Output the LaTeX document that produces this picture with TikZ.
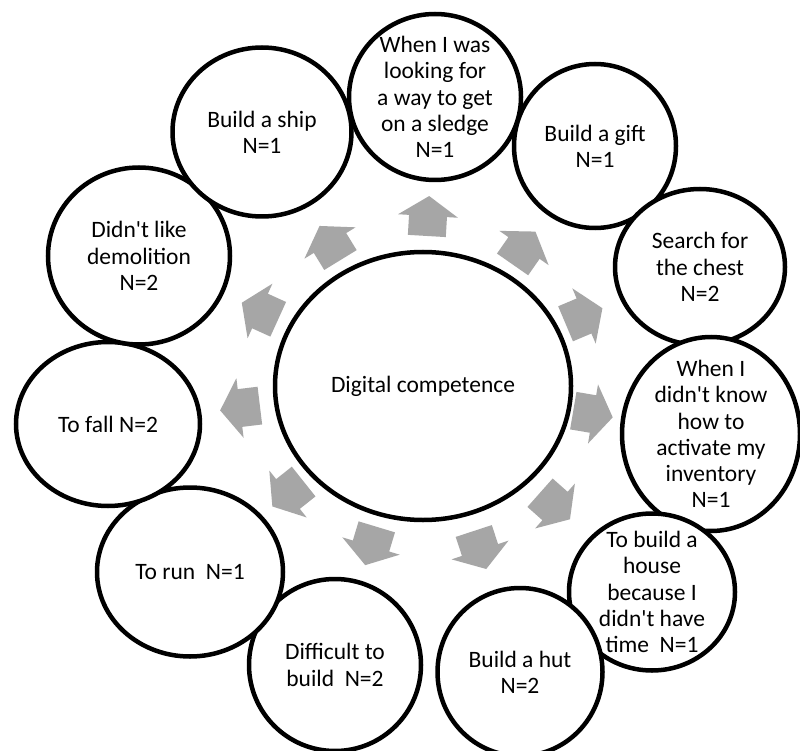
\documentclass[tikz,border=0pt]{standalone}
\usepackage{fontspec}
\setmainfont{Carlito}[Ligatures=TeXOff]
\usetikzlibrary{shapes.geometric,calc}
\definecolor{arrowgray}{HTML}{A6A6A6}
\newcommand\blockarr[2]{%
  \fill[arrowgray] ($(#1)!20pt!(#2)$) -- ($(#1)!30pt!90:(#2)$) -- ($(#1)!19pt!90:(#2)$)
    -- ($(#1)!27.59pt!136.47:(#2)$) -- ($(#1)!27.59pt!-136.47:(#2)$)
    -- ($(#1)!19pt!-90:(#2)$) -- ($(#1)!30pt!-90:(#2)$) -- cycle;}
\begin{document}
\begin{tikzpicture}[x=1pt,y=-1pt,
  bubble/.style={ellipse, draw=black, line width=4.5pt, fill=white, inner sep=0pt},
  lbl/.style={align=center, font=\fontsize{23.5}{26.3}\selectfont, inner sep=0pt, text=black},
]
\useasboundingbox (0,0) rectangle (800,751);
\fill[white] (0,0) rectangle (800,751);

% central ellipse
\node[bubble, minimum width=296pt, minimum height=268pt] (C) at (423,386) {};

% outer bubbles, clockwise from the top
\node[bubble, minimum width=172pt, minimum height=166pt] (top)  at (435,97)  {};
\node[bubble, minimum width=162pt, minimum height=164pt] (gift) at (595,146) {};
\node[bubble, minimum width=170pt, minimum height=156pt] (chest) at (700,267) {};
\node[bubble, minimum width=178pt, minimum height=194pt] (inv)  at (711,434) {};
\node[bubble, minimum width=166pt, minimum height=157pt] (house) at (652,592) {};
\node[bubble, minimum width=165pt, minimum height=168pt] (hut)  at (520,672) {};
\node[bubble, minimum width=172pt, minimum height=172pt] (diff) at (335,665) {};
\node[bubble, minimum width=186pt, minimum height=169pt] (run)  at (190,572) {};
\node[bubble, minimum width=184pt, minimum height=164pt] (fall) at (108,424) {};
\node[bubble, minimum width=182pt, minimum height=177pt] (demo) at (139,256) {};
\node[bubble, minimum width=179pt, minimum height=169pt] (ship) at (262,132) {};

% arrow centres
\coordinate (a1) at (428,216);
\coordinate (a2) at (524,248);
\coordinate (a3) at (584,316);
\coordinate (a4) at (593,414);
\coordinate (a5) at (555,506);
\coordinate (a6) at (480,550);
\coordinate (a7) at (371,546);
\coordinate (a8) at (288,494);
\coordinate (a9) at (240,408);
\coordinate (a10) at (260,311);
\coordinate (a11) at (330,243);

\blockarr{a1}{top}
\blockarr{a2}{gift}
\blockarr{a3}{chest}
\blockarr{a4}{inv}
\blockarr{a5}{house}
\blockarr{a6}{hut}
\blockarr{a7}{diff}
\blockarr{a8}{run}
\blockarr{a9}{fall}
\blockarr{a10}{demo}
\blockarr{a11}{ship}

% labels
\node[lbl] (C-t) at (C) {Digital competence};
\node[lbl] (top-t) at (top) {When I was\\looking for\\a way to get\\on a sledge\\N=1};
\node[lbl] (gift-t) at (gift) {Build a gift\\N=1};
\node[lbl] (chest-t) at (chest) {Search for\\the chest\\N=2};
\node[lbl] (inv-t) at (inv) {When I\\didn't know\\how to\\activate my\\inventory\\N=1};
\node[lbl] (house-t) at (house) {To build a\\house\\because I\\didn't have\\time\ \ N=1};
\node[lbl] (hut-t) at (hut) {Build a hut\\N=2};
\node[lbl] (diff-t) at (diff) {Difficult to\\build\ \ N=2};
\node[lbl] (run-t) at (run) {To run\ \ N=1};
\node[lbl] (fall-t) at (fall) {To fall N=2};
\node[lbl] (demo-t) at (demo) {Didn't like\\demolition\\N=2};
\node[lbl] (ship-t) at (ship) {Build a ship\\N=1};
\end{tikzpicture}
\end{document}
